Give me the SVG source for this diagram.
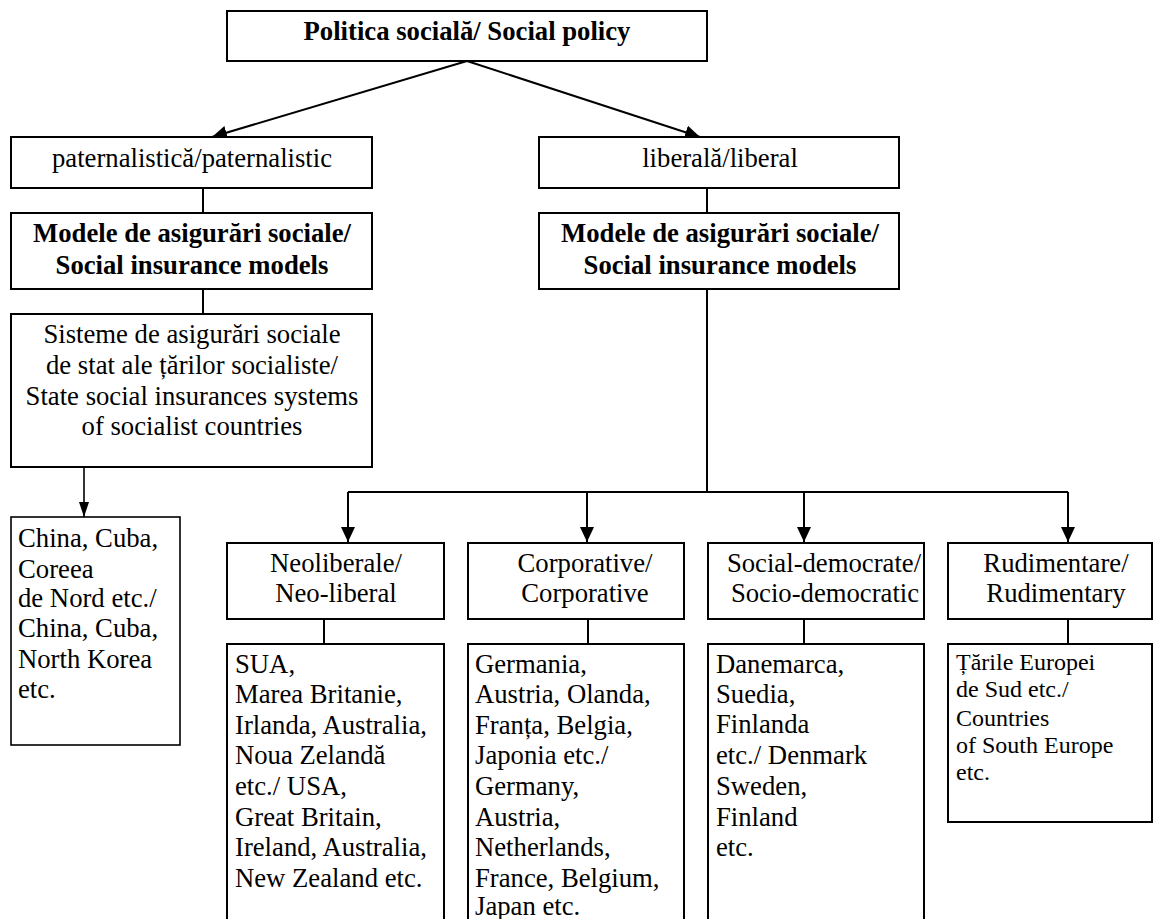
<svg xmlns="http://www.w3.org/2000/svg" width="1154" height="919" viewBox="0 0 1154 919" font-family="'Liberation Serif', 'Times New Roman', Times, 'DejaVu Serif', serif">
<style>
  .box { fill: #fff; stroke: #000; stroke-width: 2; }
  .thin { fill: #fff; stroke: #000; stroke-width: 1.6; }
  text { font-family: 'Liberation Serif', 'Times New Roman', Times, serif; font-size: 26.7px; fill: #000; }
  .b { font-weight: bold; }
  .s { font-size: 24px; }
  .c { text-anchor: middle; }
  .line { fill: none; stroke: #000; stroke-width: 2; }
  .line2 { fill: none; stroke: #000; stroke-width: 1.6; }
</style>
<defs>
  <marker id="arr" markerUnits="userSpaceOnUse" markerWidth="16" markerHeight="16" refX="15" refY="7" orient="auto">
    <path d="M0,0 L15,7 L0,14 Z" fill="#000"/>
  </marker>
  <marker id="arrS" markerUnits="userSpaceOnUse" markerWidth="16" markerHeight="12" refX="15" refY="5" orient="auto">
    <path d="M0,0 L15,5 L0,10 Z" fill="#000"/>
  </marker>
</defs>

<g id="connectors">
  <line class="line" x1="467" y1="61" x2="212" y2="137" marker-end="url(#arr)"/>
  <line class="line" x1="467" y1="61" x2="700" y2="137" marker-end="url(#arr)"/>
  <line class="line" x1="203" y1="188" x2="203" y2="213"/>
  <line class="line" x1="203" y1="289" x2="203" y2="314"/>
  <line class="line2" x1="84" y1="467" x2="84" y2="517" marker-end="url(#arrS)"/>
  <line class="line" x1="707" y1="188" x2="707" y2="213"/>
  <polyline class="line" points="707,289 707,492"/>
  <line class="line" x1="348" y1="492" x2="1068" y2="492"/>
  <line class="line" x1="348" y1="492" x2="348" y2="542" marker-end="url(#arr)"/>
  <line class="line" x1="587" y1="492" x2="587" y2="542" marker-end="url(#arr)"/>
  <line class="line" x1="804" y1="492" x2="804" y2="542" marker-end="url(#arr)"/>
  <line class="line" x1="1068" y1="492" x2="1068" y2="542" marker-end="url(#arr)"/>
  <line class="line" x1="324" y1="619" x2="324" y2="644"/>
  <line class="line" x1="588" y1="619" x2="588" y2="644"/>
  <line class="line" x1="804" y1="619" x2="804" y2="644"/>
  <line class="line" x1="1068" y1="619" x2="1068" y2="644"/>
</g>

<g id="root">
  <rect class="box" x="227" y="11" width="480" height="50"/>
  <text class="b c" x="467" y="40">Politica socială/ Social policy</text>
</g>

<g id="paternalist">
  <rect class="box" x="11" y="137" width="361" height="51"/>
  <text class="c" x="192" y="167">paternalistică/paternalistic</text>
</g>

<g id="liberal">
  <rect class="box" x="539" y="137" width="360" height="51"/>
  <text class="c" x="720" y="167">liberală/liberal</text>
</g>

<g id="models-left">
  <rect class="box" x="11" y="213" width="361" height="76"/>
  <text class="b c" x="192" y="242">Modele de asigurări sociale/</text>
  <text class="b c" x="192" y="274">Social insurance models</text>
</g>

<g id="models-right">
  <rect class="box" x="539" y="213" width="360" height="76"/>
  <text class="b c" x="720" y="242">Modele de asigurări sociale/</text>
  <text class="b c" x="720" y="274">Social insurance models</text>
</g>

<g id="state-systems">
  <rect class="box" x="11" y="314" width="361" height="153"/>
  <text class="c" x="192" y="343">Sisteme de asigurări sociale</text>
  <text class="c" x="192" y="374">de stat ale țărilor socialiste/</text>
  <text class="c" x="192" y="405">State social insurances systems</text>
  <text class="c" x="192" y="435">of socialist countries</text>
</g>

<g id="socialist-countries">
  <rect class="thin" x="11" y="517" width="169" height="228"/>
  <text x="18" y="547">China, Cuba,</text>
  <text x="18" y="578">Coreea</text>
  <text x="18" y="607">de Nord etc./</text>
  <text x="18" y="637">China, Cuba,</text>
  <text x="18" y="668">North Korea</text>
  <text x="18" y="698">etc.</text>
</g>

<g id="neoliberal">
  <rect class="box" x="227" y="543" width="217" height="76"/>
  <text class="c" x="336" y="572">Neoliberale/</text>
  <text class="c" x="336" y="602">Neo-liberal</text>
</g>

<g id="corporative">
  <rect class="box" x="468" y="543" width="216" height="76"/>
  <text class="c" x="585" y="572">Corporative/</text>
  <text class="c" x="585" y="602">Corporative</text>
</g>

<g id="social-democrat">
  <rect class="box" x="708" y="543" width="216" height="76"/>
  <text class="c" x="824" y="572">Social-democrate/</text>
  <text class="c" x="825" y="602">Socio-democratic</text>
</g>

<g id="rudimentary">
  <rect class="box" x="948" y="543" width="204" height="76"/>
  <text class="c" x="1056" y="572">Rudimentare/</text>
  <text class="c" x="1056" y="602">Rudimentary</text>
</g>

<g id="neoliberal-countries">
  <rect class="box" x="227" y="644" width="217" height="290"/>
  <text x="235" y="673">SUA,</text>
  <text x="235" y="703">Marea Britanie,</text>
  <text x="235" y="734">Irlanda, Australia,</text>
  <text x="235" y="764">Noua Zelandă</text>
  <text x="235" y="795">etc./ USA,</text>
  <text x="235" y="826">Great Britain,</text>
  <text x="235" y="856">Ireland, Australia,</text>
  <text x="235" y="887">New Zealand etc.</text>
</g>

<g id="corporative-countries">
  <rect class="box" x="468" y="644" width="216" height="290"/>
  <text x="475" y="673">Germania,</text>
  <text x="475" y="703">Austria, Olanda,</text>
  <text x="475" y="734">Franța, Belgia,</text>
  <text x="475" y="764">Japonia etc./</text>
  <text x="475" y="795">Germany,</text>
  <text x="475" y="826">Austria,</text>
  <text x="475" y="856">Netherlands,</text>
  <text x="475" y="887">France, Belgium,</text>
  <text x="475" y="915">Japan etc.</text>
</g>

<g id="social-democrat-countries">
  <rect class="box" x="708" y="644" width="216" height="290"/>
  <text x="716" y="673">Danemarca,</text>
  <text x="716" y="703">Suedia,</text>
  <text x="716" y="733">Finlanda</text>
  <text x="716" y="764">etc./ Denmark</text>
  <text x="716" y="795">Sweden,</text>
  <text x="716" y="826">Finland</text>
  <text x="716" y="856">etc.</text>
</g>

<g id="rudimentary-countries">
  <rect class="box" x="948" y="644" width="204" height="178"/>
  <text class="s" x="956" y="670">Țările Europei</text>
  <text class="s" x="956" y="697">de Sud etc./</text>
  <text class="s" x="956" y="726">Countries</text>
  <text class="s" x="956" y="753">of South Europe</text>
  <text class="s" x="956" y="780">etc.</text>
</g>
</svg>
